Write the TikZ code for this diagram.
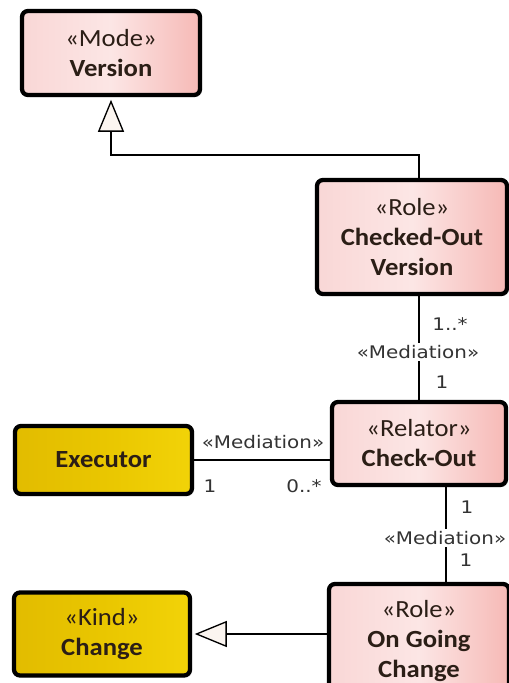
\documentclass[tikz,border=0pt]{standalone}
\usepackage{fontspec}
\usepackage{tikz}
\usetikzlibrary{arrows.meta,shadows,calc}

% fonts: Calibri-like for class boxes, Tahoma-like for connector labels
\newfontfamily\boxfont[FakeStretch=1.08]{Carlito}
\newfontfamily\lblfont[FakeStretch=1.15]{DejaVu Sans}

\definecolor{pinkL}{HTML}{F9D7D6}
\definecolor{pinkM}{HTML}{FCE6E5}
\definecolor{pinkR}{HTML}{F6B9B6}
\definecolor{yelL}{HTML}{E2BC00}
\definecolor{yelM}{HTML}{E9C600}
\definecolor{yelR}{HTML}{F2D308}
\definecolor{boxtext}{HTML}{2B1E16}
\definecolor{lbltext}{HTML}{333333}
\definecolor{tipfill}{HTML}{FBF5F0}

\begin{document}
\begin{tikzpicture}[x=0.75pt,y=-0.75pt,
  umlbox/.style={draw=black, line width=3.2pt, rounded corners=4.5pt,
    font=\boxfont\fontsize{18.5}{22.5}\selectfont, text=boxtext,
    align=center, inner sep=0pt,
    drop shadow={shadow xshift=1.5pt, shadow yshift=-1.5pt, fill=black!35, opacity=0.3}},
  pinkbox/.style={umlbox, left color=pinkL, right color=pinkR, middle color=pinkM},
  yellowbox/.style={umlbox, left color=yelL, right color=yelR, middle color=yelM},
  link/.style={draw=black, line width=1pt},
  gen/.style={link, shorten >=2pt, -{Triangle[length=24pt, width=19.5pt, fill=tipfill]}},
  lbl/.style={font=\lblfont\fontsize{13}{15}\selectfont, text=lbltext, inner sep=1pt},
  midlbl/.style={lbl, fill=white, inner sep=2pt},
]
\useasboundingbox (0,0) rectangle (509,683);
\clip (0,0) rectangle (509,683);
\fill[white] (0,0) rectangle (509,683);

% class boxes
\node[pinkbox, minimum width=178*0.75pt, minimum height=84*0.75pt] (ver) at (111,53)
  {«Mode»\\\textbf{Version}};
\node[pinkbox, minimum width=190*0.75pt, minimum height=114*0.75pt] (cov) at (412,237)
  {«Role»\\\textbf{Checked-Out}\\\textbf{Version}};
\node[pinkbox, minimum width=174*0.75pt, minimum height=83*0.75pt] (ck) at (419,443.5)
  {«Relator»\\\textbf{Check-Out}};
\node[yellowbox, minimum width=177*0.75pt, minimum height=68*0.75pt] (ex) at (103.5,460)
  {\textbf{Executor}};
\node[pinkbox, minimum width=180*0.75pt, minimum height=114*0.75pt] (ogc) at (419,641)
  {«Role»\\\textbf{On Going}\\\textbf{Change}};
\node[yellowbox, minimum width=176*0.75pt, minimum height=83*0.75pt] (ch) at (102,634)
  {«Kind»\\\textbf{Change}};

% generalizations
\draw[gen] (cov.north -| ck.north) -- ++(0,-23) -| (ver.south);
\draw[gen] (ogc.west |- ch.east) -- (ch.east);

% mediations
\draw[link] (cov.south -| ck.north) -- (ck.north);
\draw[link] (ex.east) -- (ex.east -| ck.west);
\draw[link] ($(ck.south)+(27,0)$) -- ($(ogc.north)+(27,0)$);

% labels of the mediations
\node[midlbl] (m1) at (418,352) {«Mediation»};
\node[lbl] (m1a) at (450,324) {1..*};
\node[lbl] (m1b) at (442,382) {1};

\node[lbl] (m2) at (263,442) {«Mediation»};
\node[lbl] (m2a) at (210,486) {1};
\node[lbl] (m2b) at (304,486) {0..*};

\node[lbl] (m3a) at (467,507) {1};
\node[midlbl] (m3) at (445,538) {«Mediation»};
\node[lbl] (m3b) at (466,560) {1};
\end{tikzpicture}
\end{document}
